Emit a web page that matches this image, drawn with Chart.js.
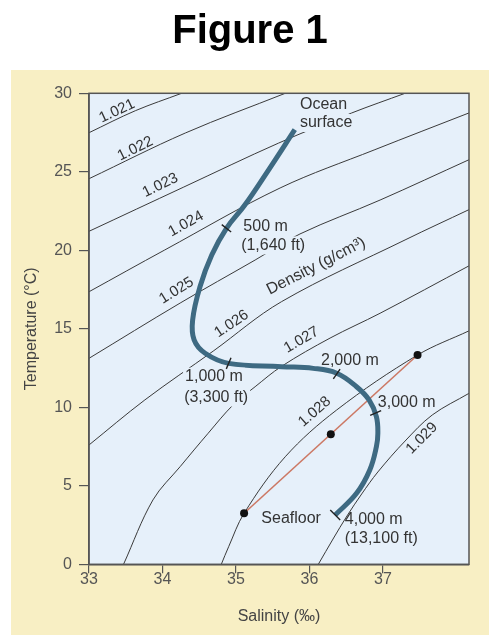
<!DOCTYPE html>
<html>
<head>
<meta charset="utf-8">
<style>
  html, body { margin: 0; padding: 0; background: #fff; }
  canvas { display: block; }
</style>
<script src="https://cdn.jsdelivr.net/npm/chart.js@4.4.1/dist/chart.umd.min.js"></script>
</head>
<body>
<canvas id="tsChart" width="500" height="644"></canvas>
<script>
// axis ticks
const salinityTicks = [33, 34, 35, 36, 37];
const temperatureTicks = [0, 5, 10, 15, 20, 25, 30];

// density lines (g/cm3), points as [salinity, temperature]
const densityNames = ['1.021', '1.022', '1.023', '1.024', '1.025', '1.026', '1.027', '1.028', '1.029'];
const iso1021 = [[33.00, 27.49], [33.63, 28.89], [34.26, 30.00]];
const iso1022 = [[33.00, 24.56], [34.31, 27.47], [35.67, 30.00]];
const iso1023 = [[33.00, 21.21], [34.29, 24.03], [35.58, 26.83], [36.57, 28.74], [37.30, 30.00]];
const iso1024 = [[33.00, 17.36], [34.03, 20.02], [35.60, 23.97], [36.89, 26.41], [38.17, 28.75]];
const iso1025 = [[33.00, 13.12], [34.24, 16.64], [35.26, 19.38], [35.87, 21.04], [36.96, 23.20], [38.17, 25.77]];
const iso1026 = [[33.00, 7.60], [33.76, 10.47], [34.69, 13.58], [35.62, 16.73], [37.30, 20.66], [38.17, 22.59]];
const iso1027 = [[33.47, 0.00], [33.87, 4.10], [34.24, 6.22], [34.62, 8.34], [34.96, 10.15],
                 [35.26, 11.31], [35.62, 12.61], [36.28, 14.41], [36.96, 15.99], [38.17, 19.01]];
const iso1028 = [[34.80, 0.00], [34.90, 1.12], [35.11, 3.25], [35.67, 6.85], [36.37, 9.83], [37.47, 13.33], [38.17, 14.87]];
const iso1029 = [[36.12, 0.00], [36.32, 1.61], [36.51, 3.08], [36.71, 4.48], [36.93, 5.88], [37.30, 7.85],
                 [37.67, 9.51], [38.17, 10.89]];

// ocean profile from surface to seafloor
const profileS = [35.80, 35.46, 35.12, 34.87, 34.67, 34.51, 34.41, 34.43, 34.58, 34.90, 35.62,
                  36.05, 36.37, 36.64, 36.81, 36.91, 36.93, 36.91, 36.82, 36.64, 36.35];
const profileT = [27.68, 25.24, 22.88, 21.40, 19.70, 17.68, 15.56, 14.29, 13.44, 12.80, 12.59,
                  12.48, 12.17, 11.31, 10.47, 9.40, 8.34, 7.49, 6.01, 4.52, 3.14];

// depth marks on the profile
const depthS = [34.87, 34.90, 36.37, 36.90];
const depthT = [21.40, 12.80, 12.12, 9.64];

// mixing of two water masses
const mixS = [35.11, 36.29, 37.47];
const mixT = [3.25, 8.29, 13.33];

const FONT = '"Liberation Sans", Arial, Helvetica, sans-serif';
const PLOT_BG = '#e6f0fa';
const INK = '#333';

const isoLines = [iso1021, iso1022, iso1023, iso1024, iso1025, iso1026, iso1027, iso1028, iso1029];

const notes = [
  { text: 'Ocean', s: 35.87, t: 29.29, align: 'left', knock: true },
  { text: 'surface', s: 35.87, t: 28.11, align: 'left', knock: true },
  { text: '500 m', s: 35.10, t: 21.50, align: 'left', knock: true },
  { text: '(1,640 ft)', s: 35.07, t: 20.31, align: 'left', knock: true },
  { text: '1,000 m', s: 34.70, t: 11.95, knock: true },
  { text: '(3,300 ft)', s: 34.73, t: 10.62, knock: true },
  { text: '2,000 m', s: 36.55, t: 12.96 },
  { text: '3,000 m', s: 36.93, t: 10.33, align: 'left' },
  { text: 'Seafloor', s: 35.75, t: 2.89 },
  { text: '4,000 m', s: 36.48, t: 2.82, align: 'left' },
  { text: '(13,100 ft)', s: 36.48, t: 1.61, align: 'left' },
  { text: 'Density (g/cm³)', s: 36.09, t: 18.99, angle: -27, knock: true },
  { text: densityNames[0], s: 33.38, t: 28.87, angle: -25, size: 15 },
  { text: densityNames[1], s: 33.63, t: 26.47, angle: -26, size: 15 },
  { text: densityNames[2], s: 33.97, t: 24.14, angle: -26, size: 15 },
  { text: densityNames[3], s: 34.32, t: 21.68, angle: -29, size: 15 },
  { text: densityNames[4], s: 34.19, t: 17.43, angle: -32, size: 15 },
  { text: densityNames[5], s: 34.94, t: 15.31, angle: -34, size: 15 },
  { text: densityNames[6], s: 35.89, t: 14.29, angle: -30, size: 15 },
  { text: densityNames[7], s: 36.07, t: 9.72, angle: -41, size: 15 },
  { text: densityNames[8], s: 37.53, t: 8.03, angle: -45, size: 15 }
];

const backdrop = {
  id: 'backdrop',
  beforeDraw(chart) {
    const ctx = chart.ctx, a = chart.chartArea;
    ctx.save();
    ctx.fillStyle = '#fff';
    ctx.fillRect(0, 0, chart.width, chart.height);
    ctx.fillStyle = '#000';
    ctx.font = 'bold 40px ' + FONT;
    ctx.textAlign = 'center';
    ctx.textBaseline = 'middle';
    ctx.fillText('Figure 1', 250, 32);
    ctx.fillStyle = '#f8efc4';
    ctx.fillRect(11, 70, 478, 565);
    ctx.fillStyle = PLOT_BG;
    ctx.fillRect(a.left, a.top, a.right - a.left, a.bottom - a.top);
    ctx.restore();
  },
  afterDraw(chart) {
    const ctx = chart.ctx, a = chart.chartArea;
    ctx.save();
    ctx.strokeStyle = '#555';
    ctx.lineWidth = 1.5;
    ctx.strokeRect(a.left, a.top, a.right - a.left, a.bottom - a.top);
    ctx.restore();
  }
};

const textLayer = {
  id: 'textLayer',
  afterDatasetsDraw(chart) {
    const ctx = chart.ctx;
    const xs = chart.scales.x, ys = chart.scales.y;

    notes.forEach(n => {
      const px = xs.getPixelForValue(n.s), py = ys.getPixelForValue(n.t);
      ctx.save();
      ctx.translate(px, py);
      ctx.rotate((n.angle || 0) * Math.PI / 180);
      ctx.font = (n.size || 16) + 'px ' + FONT;
      ctx.textAlign = n.align || 'center';
      ctx.textBaseline = 'middle';
      if (n.knock) {
        const w = ctx.measureText(n.text).width;
        const x0 = n.align === 'left' ? 0 : -w / 2;
        ctx.fillStyle = PLOT_BG;
        ctx.fillRect(x0 - 2, -9, w + 4, 18);
      }
      ctx.fillStyle = INK;
      ctx.fillText(n.text, 0, 0);
      ctx.restore();
    });

    // little marks across the profile
    const pts = profileS.map((s, i) => [xs.getPixelForValue(s), ys.getPixelForValue(profileT[i])]);
    const mark = (p, d, half) => {
      const len = Math.hypot(d[0], d[1]);
      const nx = -d[1] / len, ny = d[0] / len;
      ctx.beginPath();
      ctx.moveTo(p[0] - nx * half, p[1] - ny * half);
      ctx.lineTo(p[0] + nx * half, p[1] + ny * half);
      ctx.stroke();
    };
    ctx.save();
    ctx.strokeStyle = '#222';
    ctx.lineWidth = 1.4;
    depthS.forEach((s, k) => {
      const p = [xs.getPixelForValue(s), ys.getPixelForValue(depthT[k])];
      let best = 0, bestD = Infinity;
      for (let i = 0; i < pts.length - 1; i++) {
        const mx = (pts[i][0] + pts[i + 1][0]) / 2, my = (pts[i][1] + pts[i + 1][1]) / 2;
        const d = Math.hypot(mx - p[0], my - p[1]);
        if (d < bestD) { bestD = d; best = i; }
      }
      mark(p, [pts[best + 1][0] - pts[best][0], pts[best + 1][1] - pts[best][1]], 6);
    });
    const last = pts[pts.length - 1], prev = pts[pts.length - 2];
    mark(last, [last[0] - prev[0], last[1] - prev[1]], 7);
    ctx.restore();
  }
};

const datasets = isoLines.map(line => ({
  data: line.map(p => ({ x: p[0], y: p[1] })),
  showLine: true,
  borderColor: '#3a3a3a',
  borderWidth: 1,
  pointRadius: 0,
  tension: 0.35,
  order: 4
}));

datasets.push({
  data: [{ x: mixS[0], y: mixT[0] }, { x: mixS[2], y: mixT[2] }],
  showLine: true,
  borderColor: '#cc7864',
  borderWidth: 1.6,
  pointRadius: 0,
  order: 3
});

datasets.push({
  data: profileS.map((s, i) => ({ x: s, y: profileT[i] })),
  showLine: true,
  borderColor: '#3e6a82',
  borderWidth: 5,
  pointRadius: 0,
  tension: 0.4,
  order: 2
});

datasets.push({
  data: mixS.map((s, i) => ({ x: s, y: mixT[i] })),
  showLine: false,
  pointRadius: 4,
  pointBackgroundColor: '#111',
  pointBorderWidth: 0,
  order: 1
});

Chart.defaults.font.family = FONT;

new Chart(document.getElementById('tsChart'), {
  type: 'scatter',
  data: { datasets: datasets },
  options: {
    responsive: false,
    animation: false,
    layout: { padding: { top: 93.3, left: 0, right: 31, bottom: 0 } },
    plugins: {
      legend: { display: false },
      tooltip: { enabled: false },
      title: { display: false }
    },
    scales: {
      x: {
        type: 'linear',
        min: 33,
        max: 38.17,
        afterBuildTicks: scale => { scale.ticks = salinityTicks.map(v => ({ value: v })); },
        afterFit: scale => { scale.height = 79.7; },
        ticks: { color: '#555', font: { size: 16 }, padding: -3, callback: v => String(v) },
        grid: { drawOnChartArea: false, drawTicks: true, tickLength: 9, color: '#555', lineWidth: 1.2 },
        border: { display: true, color: '#555', width: 1.5 },
        title: { display: true, text: 'Salinity (‰)', color: '#444', font: { size: 16 }, padding: { top: 0, bottom: 18 } }
      },
      y: {
        type: 'linear',
        min: 0,
        max: 30,
        afterBuildTicks: scale => { scale.ticks = temperatureTicks.map(v => ({ value: v })); },
        afterFit: scale => { scale.width = 89; },
        ticks: { color: '#555', font: { size: 16 }, padding: 7, callback: v => String(v) },
        grid: { drawOnChartArea: false, drawTicks: true, tickLength: 10, color: '#555', lineWidth: 1.2 },
        border: { display: true, color: '#555', width: 1.5 },
        title: { display: true, text: 'Temperature (°C)', color: '#444', font: { size: 16 }, padding: { top: 22, bottom: 0 } }
      }
    }
  },
  plugins: [backdrop, textLayer]
});
</script>
</body>
</html>
